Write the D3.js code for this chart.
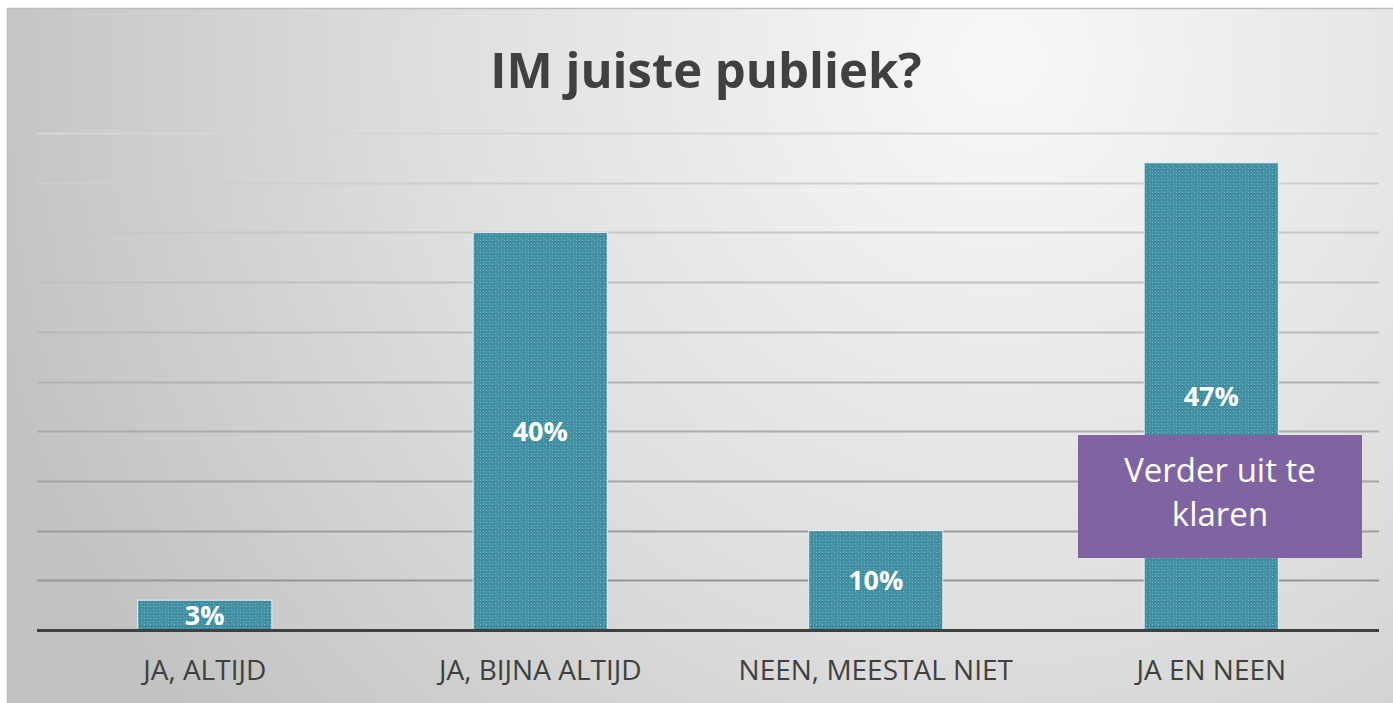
<!DOCTYPE html>
<html>
<head>
<meta charset="utf-8">
<script src="https://cdn.jsdelivr.net/npm/d3@7"></script>
<style>
  html, body { margin: 0; padding: 0; background: #ffffff; }
  svg { display: block; }
</style>
</head>
<body>
<svg id="chart" width="1393" height="703"></svg>
<script>
const categories = ["JA, ALTIJD", "JA, BIJNA ALTIJD", "NEEN, MEESTAL NIET", "JA EN NEEN"];
const values = [3, 40, 10, 47];
const valueLabels = ["3%", "40%", "10%", "47%"];
const yTicks = [0, 5, 10, 15, 20, 25, 30, 35, 40, 45, 50];
const title = "IM juiste publiek?";
const noteLines = ["Verder uit te", "klaren"];

(function () {
const svg = d3.select("#chart");
const W = 1393, H = 703;
const defs = svg.append("defs");

// background radial gradient
const bg = defs.append("radialGradient").attr("id", "bg")
  .attr("gradientUnits", "userSpaceOnUse")
  .attr("cx", 1000).attr("cy", 60).attr("r", 1050);
bg.append("stop").attr("offset", "0%").attr("stop-color", "#f8f8f8");
bg.append("stop").attr("offset", "55%").attr("stop-color", "#dedede");
bg.append("stop").attr("offset", "100%").attr("stop-color", "#c2c2c2");

// gridline gradient (lighter at top)
const gg = defs.append("linearGradient").attr("id", "gridg")
  .attr("gradientUnits", "userSpaceOnUse")
  .attr("x1", 0).attr("y1", 130).attr("x2", 0).attr("y2", 630);
gg.append("stop").attr("offset", "0%").attr("stop-color", "#d6d6d6");
gg.append("stop").attr("offset", "100%").attr("stop-color", "#8f8f8f");

// bar texture pattern
const pat = defs.append("pattern").attr("id", "tex")
  .attr("patternUnits", "userSpaceOnUse").attr("width", 6).attr("height", 6);
pat.append("rect").attr("width", 6).attr("height", 6).attr("fill", "#3f8ea2");
pat.append("rect").attr("x", 0).attr("y", 0).attr("width", 1).attr("height", 1).attr("fill", "#8cc0cf");
pat.append("rect").attr("x", 3).attr("y", 3).attr("width", 1).attr("height", 1).attr("fill", "#7ab4c4");
pat.append("rect").attr("x", 3).attr("y", 0).attr("width", 1).attr("height", 1).attr("fill", "#5fa2b4");
pat.append("rect").attr("x", 0).attr("y", 3).attr("width", 1).attr("height", 1).attr("fill", "#5fa2b4");
pat.append("rect").attr("x", 1).attr("y", 2).attr("width", 1).attr("height", 1).attr("fill", "#348297");
pat.append("rect").attr("x", 4).attr("y", 5).attr("width", 1).attr("height", 1).attr("fill", "#6aa9ba");

// background
svg.append("rect").attr("x", 0).attr("y", 0).attr("width", W).attr("height", H).attr("fill", "#ffffff");
svg.append("rect").attr("x", 7).attr("y", 8).attr("width", W - 7).attr("height", H - 8)
  .attr("fill", "url(#bg)");
svg.append("line").attr("x1", 7).attr("x2", W).attr("y1", 8.5).attr("y2", 8.5)
  .attr("stroke", "#bdbdbd").attr("stroke-width", 1.5);
svg.append("line").attr("x1", 7.5).attr("x2", 7.5).attr("y1", 8).attr("y2", H)
  .attr("stroke", "#bdbdbd").attr("stroke-width", 1.5);

// scales
const pLeft = 37, pRight = 1379, pTop = 133, pBottom = 630;
const x = d3.scaleBand().domain(categories).range([pLeft, pRight]).paddingInner(0.6).paddingOuter(0.3);
const y = d3.scaleLinear().domain([0, 50]).range([pBottom, pTop]);

// gridlines
svg.append("g").selectAll("line").data(yTicks.filter(d => d > 0)).join("line")
  .attr("x1", pLeft).attr("x2", pRight)
  .attr("y1", d => Math.round(y(d)) + 0.5).attr("y2", d => Math.round(y(d)) + 0.5)
  .attr("stroke", "url(#gridg)").attr("stroke-width", 2);

// bars
svg.append("g").selectAll("rect").data(values).join("rect")
  .attr("x", (d, i) => x(categories[i]))
  .attr("y", d => y(d))
  .attr("width", x.bandwidth())
  .attr("height", d => pBottom - y(d))
  .attr("fill", "url(#tex)")
  .attr("stroke", "#e6f0f3").attr("stroke-width", 1);

// baseline
svg.append("line").attr("x1", pLeft).attr("x2", pRight).attr("y1", pBottom + 0.5).attr("y2", pBottom + 0.5)
  .attr("stroke", "#404040").attr("stroke-width", 3);

// value labels
svg.append("g").selectAll("text").data(values).join("text")
  .attr("x", (d, i) => x(categories[i]) + x.bandwidth() / 2)
  .attr("y", d => y(d) + (pBottom - y(d)) / 2 + 10)
  .attr("text-anchor", "middle")
  .attr("font-family", "'Open Sans', 'Noto Sans', sans-serif")
  .attr("font-weight", "bold").attr("font-size", 27)
  .attr("fill", "#ffffff")
  .text((d, i) => valueLabels[i]);

// category axis labels
const xAxis = d3.axisBottom(x).tickSize(0).tickPadding(0);
const ax = svg.append("g").attr("transform", `translate(0,${pBottom})`).call(xAxis);
ax.select(".domain").remove();
ax.selectAll("text")
  .attr("dy", 0).attr("y", 50)
  .attr("font-family", "'Open Sans', 'Noto Sans', sans-serif")
  .attr("font-size", 28).attr("fill", "#404040");

// title
svg.append("text").attr("x", 706).attr("y", 88).attr("text-anchor", "middle")
  .attr("font-family", "'Open Sans', 'Noto Sans', sans-serif")
  .attr("font-weight", "bold").attr("font-size", 49).attr("fill", "#404040")
  .text(title);

// purple note box
svg.append("rect").attr("x", 1078).attr("y", 435).attr("width", 284).attr("height", 123)
  .attr("fill", "#8064a2");
svg.append("g").selectAll("text").data(noteLines).join("text")
  .attr("x", 1220).attr("y", (d, i) => 482 + i * 44)
  .attr("text-anchor", "middle")
  .attr("font-family", "'Open Sans', 'Noto Sans', sans-serif")
  .attr("font-size", 33).attr("fill", "#ffffff")
  .text(d => d);
})();
</script>
</body>
</html>
